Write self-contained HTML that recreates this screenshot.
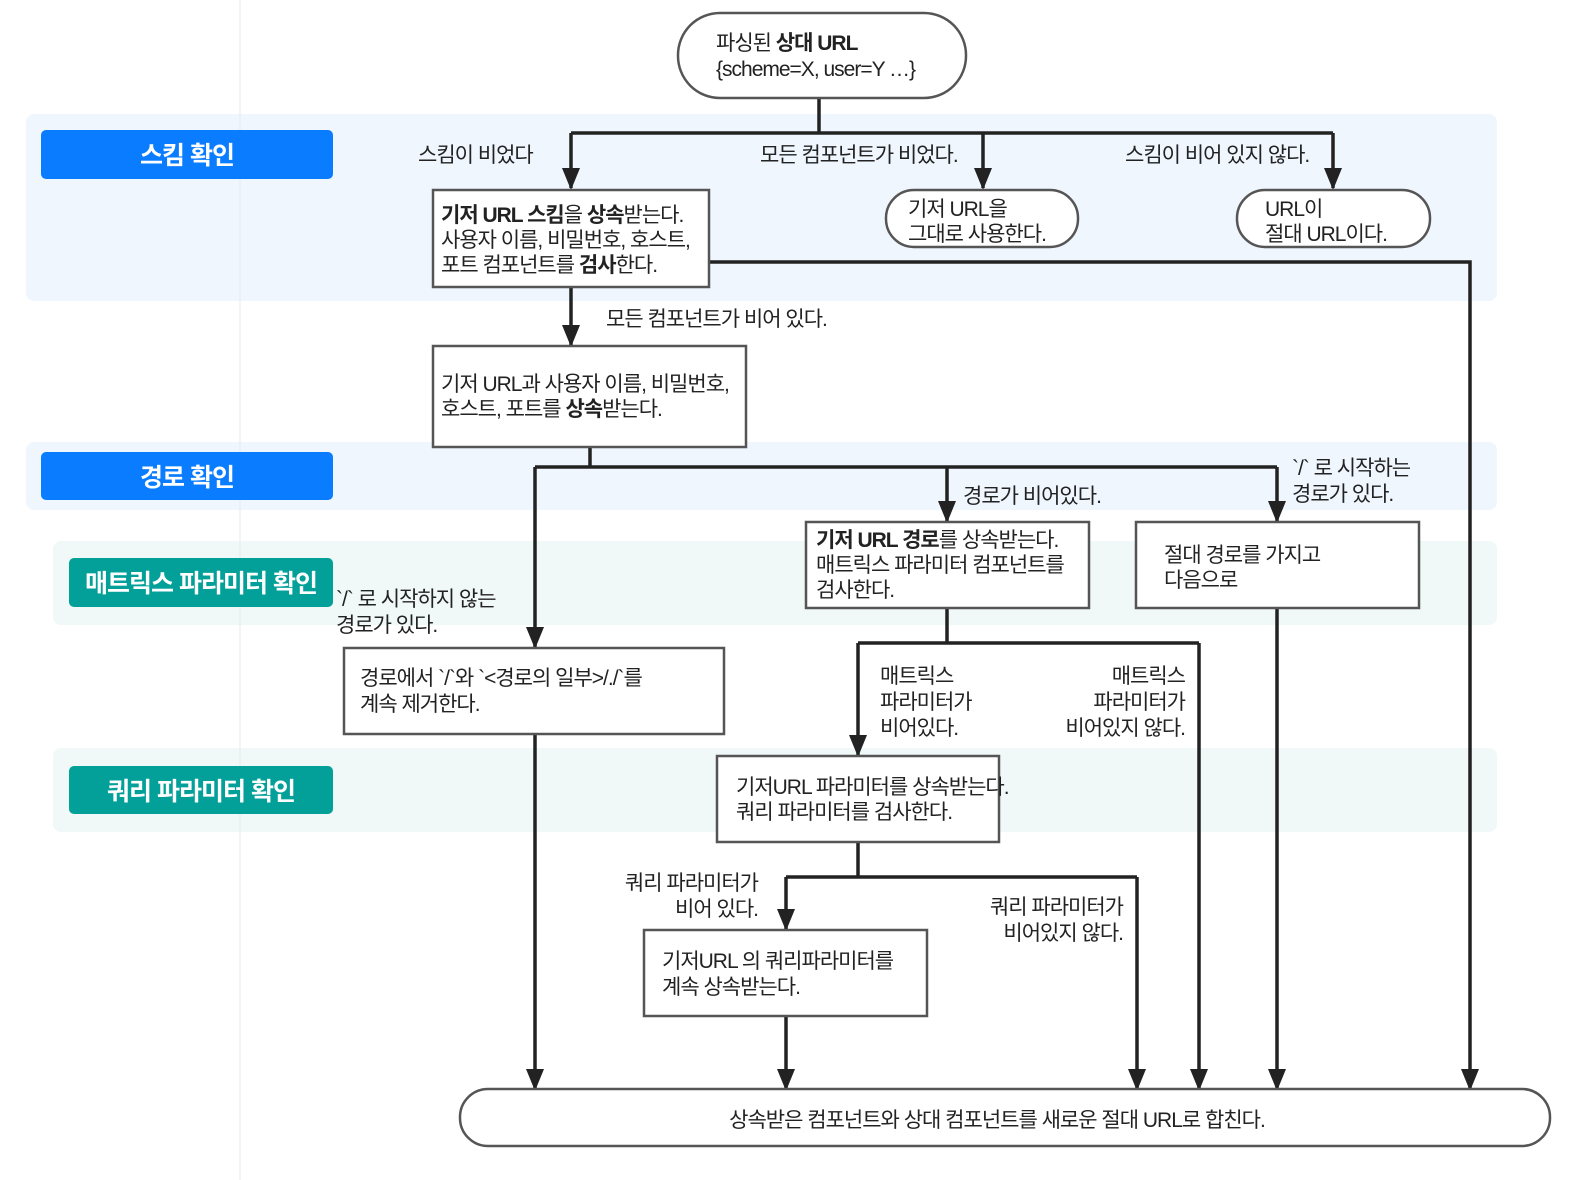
<!DOCTYPE html>
<html><head><meta charset="utf-8"><style>
html,body{margin:0;padding:0;background:#fff;overflow:hidden;width:1590px;height:1180px}
svg{display:block}
svg text{font-family:"Liberation Sans","Noto Sans CJK KR",sans-serif;font-size:21px;fill:#222;letter-spacing:-1px}
.b{font-weight:bold}
.lab{fill:#fff;font-size:25px;font-weight:bold;letter-spacing:-1px}
</style></head><body>
<svg width="1590" height="1180" viewBox="0 0 1590 1180" xmlns="http://www.w3.org/2000/svg">
<defs><marker id="a" markerWidth="22" markerHeight="18" refX="20" refY="9" orient="auto" markerUnits="userSpaceOnUse" viewBox="0 0 22 18"><path d="M0,0 L22,9 L0,18 Z" fill="#222"/></marker></defs>
<rect x="26" y="114" width="1471" height="187" rx="8" fill="#eff6fe"/>
<rect x="26" y="442" width="1471" height="68" rx="8" fill="#eff6fe"/>
<rect x="53" y="541" width="1444" height="84" rx="8" fill="#f0f8f8"/>
<rect x="53" y="748" width="1444" height="84" rx="8" fill="#f0f8f8"/>
<line x1="240" y1="0" x2="240" y2="1180" stroke="#e6e9ee" stroke-width="1"/>
<rect x="41" y="130" width="292" height="49" rx="5" fill="#0a7cff"/>
<text class="lab" x="187" y="164" text-anchor="middle">스킴 확인</text>
<rect x="41" y="452" width="292" height="48" rx="5" fill="#0a7cff"/>
<text class="lab" x="187" y="486" text-anchor="middle">경로 확인</text>
<rect x="69" y="558" width="264" height="49" rx="5" fill="#03a09a"/>
<text class="lab" x="201" y="592" text-anchor="middle">매트릭스 파라미터 확인</text>
<rect x="69" y="766" width="264" height="48" rx="5" fill="#03a09a"/>
<text class="lab" x="201" y="800" text-anchor="middle">쿼리 파라미터 확인</text>
<g stroke="#222" stroke-width="3.5" fill="none">
<path d="M819,98 V133 M571,133 H1333"/>
<path d="M571,133 V188" marker-end="url(#a)"/>
<path d="M983,133 V188" marker-end="url(#a)"/>
<path d="M1333,133 V188" marker-end="url(#a)"/>
<path d="M709,262 H1470 V1089" marker-end="url(#a)"/>
<path d="M571,287 V345" marker-end="url(#a)"/>
<path d="M590,447 V467 M535,467 H1277"/>
<path d="M535,467 V647" marker-end="url(#a)"/>
<path d="M947,467 V521" marker-end="url(#a)"/>
<path d="M1277,467 V521" marker-end="url(#a)"/>
<path d="M535,734 V1089" marker-end="url(#a)"/>
<path d="M947,608 V643 M858,643 H1199"/>
<path d="M858,643 V755" marker-end="url(#a)"/>
<path d="M1199,643 V1089" marker-end="url(#a)"/>
<path d="M1277,608 V1089" marker-end="url(#a)"/>
<path d="M858,842 V877 M786,877 H1137"/>
<path d="M786,877 V929" marker-end="url(#a)"/>
<path d="M1137,877 V1089" marker-end="url(#a)"/>
<path d="M786,1016 V1089" marker-end="url(#a)"/>
</g>
<g stroke="#555" stroke-width="2.5" fill="#fff">
<rect x="678" y="13" width="288" height="85" rx="42"/>
<rect x="433" y="190" width="276" height="97"/>
<rect x="886" y="190" width="192" height="57" rx="28"/>
<rect x="1237" y="190" width="193" height="57" rx="28"/>
<rect x="433" y="346" width="313" height="101"/>
<rect x="806" y="522" width="283" height="86"/>
<rect x="1136" y="522" width="283" height="86"/>
<rect x="344" y="648" width="380" height="86"/>
<rect x="717" y="756" width="282" height="86"/>
<rect x="644" y="930" width="283" height="86"/>
<rect x="460" y="1089" width="1090" height="57" rx="28"/>
</g>
<text x="716" y="50">파싱된 <tspan class="b">상대 URL</tspan></text>
<text x="716" y="76">{scheme=X, user=Y …}</text>
<text x="441" y="222"><tspan class="b">기저 URL 스킴</tspan>을 <tspan class="b">상속</tspan>받는다.</text>
<text x="441" y="247">사용자 이름, 비밀번호, 호스트,</text>
<text x="441" y="272">포트 컴포넌트를 <tspan class="b">검사</tspan>한다.</text>
<text x="908" y="216">기저 URL을</text>
<text x="908" y="241">그대로 사용한다.</text>
<text x="1265" y="216">URL이</text>
<text x="1265" y="241">절대 URL이다.</text>
<text x="418" y="162">스킴이 비었다</text>
<text x="760" y="162">모든 컴포넌트가 비었다.</text>
<text x="1125" y="162">스킴이 비어 있지 않다.</text>
<text x="606" y="326">모든 컴포넌트가 비어 있다.</text>
<text x="441" y="391">기저 URL과 사용자 이름, 비밀번호,</text>
<text x="441" y="416">호스트, 포트를 <tspan class="b">상속</tspan>받는다.</text>
<text x="1292" y="475">`/` 로 시작하는</text>
<text x="1292" y="501">경로가 있다.</text>
<text x="963" y="503">경로가 비어있다.</text>
<text x="816" y="547"><tspan class="b">기저 URL 경로</tspan>를 상속받는다.</text>
<text x="816" y="572">매트릭스 파라미터 컴포넌트를</text>
<text x="816" y="597">검사한다.</text>
<text x="1164" y="562">절대 경로를 가지고</text>
<text x="1164" y="587">다음으로</text>
<text x="336" y="606">`/` 로 시작하지 않는</text>
<text x="336" y="632">경로가 있다.</text>
<text x="360" y="685">경로에서 `/`와 `&lt;경로의 일부&gt;/./`를</text>
<text x="360" y="711">계속 제거한다.</text>
<text x="880" y="683">매트릭스</text>
<text x="880" y="709">파라미터가</text>
<text x="880" y="735">비어있다.</text>
<text x="1185" y="683" text-anchor="end">매트릭스</text>
<text x="1185" y="709" text-anchor="end">파라미터가</text>
<text x="1185" y="735" text-anchor="end">비어있지 않다.</text>
<text x="736" y="794">기저URL 파라미터를 상속받는다.</text>
<text x="736" y="819">쿼리 파라미터를 검사한다.</text>
<text x="758" y="890" text-anchor="end">쿼리 파라미터가</text>
<text x="758" y="916" text-anchor="end">비어 있다.</text>
<text x="1123" y="914" text-anchor="end">쿼리 파라미터가</text>
<text x="1123" y="940" text-anchor="end">비어있지 않다.</text>
<text x="662" y="968">기저URL 의 쿼리파라미터를</text>
<text x="662" y="994">계속 상속받는다.</text>
<text x="997" y="1127" text-anchor="middle">상속받은 컴포넌트와 상대 컴포넌트를 새로운 절대 URL로 합친다.</text>
</svg>
</body></html>
